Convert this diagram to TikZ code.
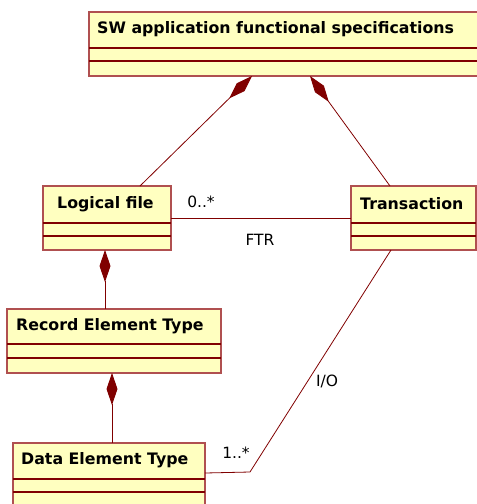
\documentclass[tikz,border=0pt]{standalone}
\usepackage{fontspec}
\setmainfont{DejaVu Sans}
\usetikzlibrary{arrows.meta}
\definecolor{umlfill}{RGB}{255,255,192}
\definecolor{umlred}{RGB}{128,0,0}
\definecolor{umlborder}{RGB}{176,80,80}
\begin{document}
\begin{tikzpicture}[x=1pt,y=-1pt,
  box/.style={draw=umlborder, line width=1.2pt, fill=umlfill, anchor=north west, inner sep=0pt, outer sep=0pt},
  ttl/.style={font=\fontsize{15.8}{18}\selectfont\bfseries, anchor=west, inner sep=0pt},
  sep/.style={draw=umlred, line width=1.4pt},
  conn/.style={draw=umlred, line width=0.8pt},
  comp/.style={conn, {Diamond[length=32pt,width=11pt]}-},
  lbl/.style={font=\fontsize{15.5}{18}\selectfont, inner sep=0pt}]
\useasboundingbox (0,0) rectangle (477,504);
\clip (0,0) rectangle (477,504);
% boxes
\node[box, minimum width=400pt, minimum height=64pt] (top) at (89,12) {};
\node[box, minimum width=128pt, minimum height=64pt] (lf) at (43,186) {};
\node[box, minimum width=125pt, minimum height=64pt] (tr) at (351,186) {};
\node[box, minimum width=214pt, minimum height=64pt] (ret) at (7,309) {};
\node[box, minimum width=192pt, minimum height=80pt] (det) at (13,443) {};
% separators
\draw[sep] ([yshift=-36pt]top.north west) -- ([yshift=-36pt]top.north east);
\draw[sep] ([yshift=-49pt]top.north west) -- ([yshift=-49pt]top.north east);
\draw[sep] ([yshift=-37pt]lf.north west) -- ([yshift=-37pt]lf.north east);
\draw[sep] ([yshift=-50pt]lf.north west) -- ([yshift=-50pt]lf.north east);
\draw[sep] ([yshift=-37pt]tr.north west) -- ([yshift=-37pt]tr.north east);
\draw[sep] ([yshift=-50pt]tr.north west) -- ([yshift=-50pt]tr.north east);
\draw[sep] ([yshift=-35pt]ret.north west) -- ([yshift=-35pt]ret.north east);
\draw[sep] ([yshift=-49pt]ret.north west) -- ([yshift=-49pt]ret.north east);
\draw[sep] ([yshift=-36pt]det.north west) -- ([yshift=-36pt]det.north east);
\draw[sep] ([yshift=-49pt]det.north west) -- ([yshift=-49pt]det.north east);
% titles
\node[ttl] (topt) at (97,29) {SW application functional specifications};
\node[ttl] (lft) at (57,204) {Logical file};
\node[ttl] (trt) at (360,204) {Transaction};
\node[ttl] (rett) at (16,326) {Record Element Type};
\node[ttl] (dett) at (21,460) {Data Element Type};
% connectors
\draw[comp] ([xshift=163pt]top.south west) -- ([xshift=97pt]lf.north west);
\draw[comp] ([xshift=221pt]top.south west) -- ([xshift=39pt]tr.north west);
\draw[conn] ([yshift=-32pt]lf.north east) -- ([yshift=-32pt]tr.north west);
\draw[comp] ([xshift=62pt]lf.south west) -- ([xshift=98pt]ret.north west);
\draw[comp] ([xshift=105pt]ret.south west) -- ([xshift=99pt]det.north west);
\coordinate (bend) at (250,472);
\draw[conn] ([yshift=-30pt]det.north east) -- (bend) -- ([xshift=40pt]tr.south west);
% labels
\node[lbl] (m1) at (201,202) {0..*};
\node[lbl] (ftr) at (260,240) {FTR};
\node[lbl] (m2) at (236,453) {1..*};
\node[lbl] (io) at (327,381) {I/O};
\end{tikzpicture}
\end{document}
